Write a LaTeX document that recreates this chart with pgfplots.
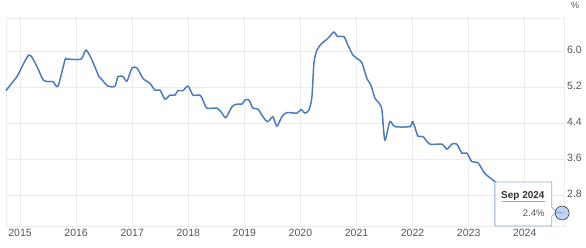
\documentclass[border=0pt]{standalone}
\usepackage{pgfplots}
\pgfplotsset{compat=1.18}
\usepackage{fontspec}
\setmainfont{Liberation Sans}
\definecolor{teblue}{RGB}{74,125,192}
\definecolor{tegrid}{RGB}{236,236,236}
\definecolor{teaxis}{RGB}{215,215,215}
\definecolor{tetext}{RGB}{85,85,85}
\definecolor{tipborder}{RGB}{140,172,215}
\definecolor{tipdot}{RGB}{170,198,236}
\begin{document}
\begin{tikzpicture}
\begin{axis}[
  scale only axis, width=558pt, height=208pt,
  xmin=2014.75, xmax=2024.70, ymin=2.111, ymax=6.733,
  xtick={2015,2016,2017,2018,2019,2020,2021,2022,2023,2024},
  xticklabels={2015,2016,2017,2018,2019,2020,2021,2022,2023,2024},
  ytick={2.8,3.6,4.4,5.2,6.0},
  yticklabels={2.8,3.6,4.4,5.2,6.0},
  major tick length=0pt,
  grid=major, major grid style={draw=tegrid, line width=0.8pt},
  axis line style={draw=tegrid, line width=0.8pt},
  x axis line style={draw=teaxis},
  yticklabel pos=right,
  yticklabel style={anchor=west, inner sep=0pt, xshift=3pt, yshift=1pt, font=\fontsize{10.5}{12}\selectfont, text=tetext},
  xticklabel style={anchor=north, inner sep=0pt, yshift=-3pt, font=\fontsize{10.5}{12}\selectfont, text=tetext},
  clip=false,
]
\addplot[teblue, line width=1.5pt, smooth, tension=0.45] coordinates {
(2014.750,5.12) (2014.875,5.32) (2014.947,5.43) (2015.160,5.91) (2015.303,5.65)
(2015.410,5.36) (2015.499,5.32) (2015.588,5.32) (2015.677,5.22) (2015.802,5.80)
(2015.838,5.82) (2016.087,5.82) (2016.176,6.02) (2016.283,5.80) (2016.408,5.43)
(2016.462,5.36) (2016.569,5.22) (2016.693,5.22) (2016.747,5.43) (2016.836,5.43)
(2016.907,5.33) (2016.996,5.62) (2017.086,5.62) (2017.193,5.39) (2017.317,5.28)
(2017.406,5.13) (2017.496,5.13) (2017.585,4.93) (2017.674,5.02) (2017.763,5.02)
(2017.816,5.12) (2017.906,5.12) (2017.995,5.22) (2018.084,5.02) (2018.209,5.02)
(2018.262,4.91) (2018.333,4.73) (2018.512,4.73) (2018.601,4.62) (2018.672,4.52)
(2018.779,4.76) (2018.868,4.82) (2018.957,4.82) (2019.011,4.91) (2019.082,4.91)
(2019.153,4.73) (2019.242,4.71) (2019.332,4.54) (2019.403,4.43) (2019.456,4.47)
(2019.510,4.54) (2019.581,4.33) (2019.670,4.54) (2019.759,4.63) (2019.938,4.62)
(2020.009,4.70) (2020.080,4.62) (2020.152,4.69) (2020.205,4.98) (2020.241,5.73)
(2020.294,6.02) (2020.383,6.17) (2020.472,6.26) (2020.526,6.33) (2020.597,6.42)
(2020.668,6.32) (2020.775,6.32) (2020.847,6.13) (2020.936,5.91) (2021.025,5.82)
(2021.096,5.74) (2021.185,5.39) (2021.257,5.24) (2021.328,4.95) (2021.399,4.85)
(2021.453,4.69) (2021.506,4.02) (2021.595,4.43) (2021.684,4.32) (2021.952,4.32)
(2022.005,4.43) (2022.094,4.11) (2022.184,4.10) (2022.308,3.93) (2022.522,3.93)
(2022.611,3.82) (2022.701,3.93) (2022.790,3.93) (2022.879,3.73) (2022.968,3.73)
(2023.057,3.54) (2023.164,3.52) (2023.289,3.28) (2023.467,3.10) (2023.550,3.03)
(2023.720,2.93) (2023.880,2.85) (2024.050,2.75) (2024.220,2.60) (2024.380,2.48)
(2024.500,2.42) (2024.667,2.40)
};
\draw[tipborder, fill=white, line width=0.8pt]
  (axis cs:2023.467,3.089) -- (axis cs:2024.483,3.089) -- (axis cs:2024.483,2.527)
  -- (axis cs:2024.567,2.429) -- (axis cs:2024.483,2.333) -- (axis cs:2024.483,2.111)
  -- (axis cs:2023.467,2.111) -- cycle;
\draw[teblue, line width=1.5pt] (axis cs:2024.567,2.42) -- (axis cs:2024.667,2.40);
\node[font=\bfseries\fontsize{10}{12}\selectfont, text=black!80] at (axis cs:2023.966,2.778) {Sep 2024};
\draw[gray!70, line width=0.6pt] (axis cs:2023.592,2.651) -- (axis cs:2024.358,2.651);
\node[anchor=east, inner sep=0pt, font=\fontsize{9.5}{12}\selectfont, text=tetext] at (axis cs:2024.358,2.40) {2.4\%};
\addplot[only marks, mark=*, mark size=7pt, mark options={fill=tipdot, draw=none, fill opacity=0.75}] coordinates {(2024.667,2.40)};
\node[font=\fontsize{9}{11}\selectfont, text=tetext] at ([xshift=11pt,yshift=13pt]rel axis cs:1,1) {\%};
\end{axis}
\path (current axis.south west) ++(-6pt,-21pt) coordinate (bl);
\path (current axis.north east) ++(22pt,18pt) coordinate (tr);
\pgfresetboundingbox
\useasboundingbox (bl) rectangle (tr);
\end{tikzpicture}
\end{document}
